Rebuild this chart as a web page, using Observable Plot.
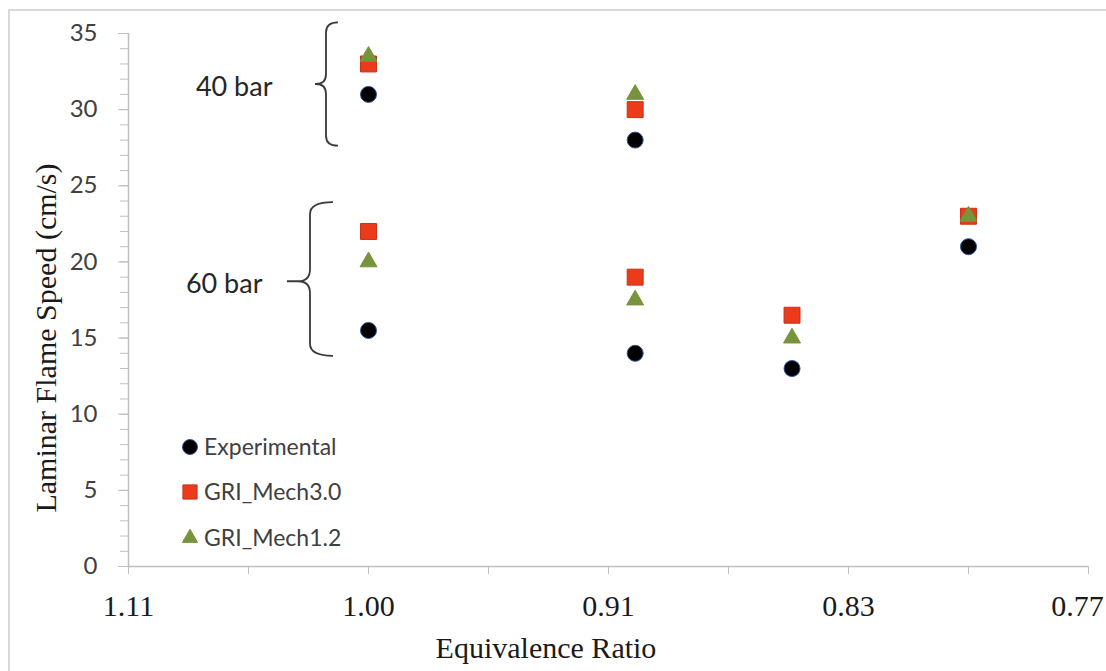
<!DOCTYPE html>
<html><head><meta charset="utf-8">
<script src="https://cdn.jsdelivr.net/npm/d3@7"></script>
<script src="https://cdn.jsdelivr.net/npm/@observablehq/plot@0.6"></script>
<style>body{margin:0;background:#fff;}</style>
</head><body><div id="chart"></div>
<script>
// ---- data ----
const phi          = [1.00, 0.90, 1.00, 0.90, 0.85, 0.80];   // equivalence ratio of each point
const experimental = [31,   28,   15.5, 14,   13,   21];
const griMech30    = [33,   30,   22,   19,   16.5, 23];
const griMech12    = [33.5, 31,   20,   17.5, 15,   23];
const seriesNames  = ["Experimental", "GRI_Mech3.0", "GRI_Mech1.2"];
const seriesValues = [experimental, griMech30, griMech12];

// x axis is linear in 1/phi; ticks labelled with phi
const xTickValues = [0.9, 1.0, 1.1, 1.2, 1.3];
const xTickLabels = ["1.11", "1.00", "0.91", "0.83", "0.77"];
const xMinorTicks = [0.9, 0.95, 1.0, 1.05, 1.1, 1.15, 1.2, 1.25, 1.3];
const yTicks = [0, 5, 10, 15, 20, 25, 30, 35];
const yMinorTicks = d3.range(0, 36, 1);
const xTitle = "Equivalence Ratio";
const yTitle = "Laminar Flame Speed (cm/s)";

// pressure groups marked with braces
const groupLabels = ["40 bar", "60 bar"];
const groupPhi    = [1.00, 1.00];
const groupTop    = [35.7, 23.9];
const groupBottom = [27.6, 13.8];
const groupMid    = [31.65, 18.7];

// ---- styles ----
const seriesStyle = {
  "Experimental": {symbol: "circle",   fill: "#000000", stroke: "#2f5597", r: 8,   lr: 7.5},
  "GRI_Mech3.0":  {symbol: "square",   fill: "#ec3b1b", stroke: "#c9311c", r: 9,   lr: 8},
  "GRI_Mech1.2":  {symbol: "triangle", fill: "#77933c", stroke: "#77933c", r: 6.3, lr: 5.6}
};
const braceStyle = [
  {spine: -42, tip: -30, mid: -53, rad: 10, textDx: -96},
  {spine: -58, tip: -35, mid: -81, rad: 12, textDx: -106}
];
const axisGray = "#bfbfbf";

const rows = [];
seriesNames.forEach((name, s) => seriesValues[s].forEach((v, i) => rows.push({series: name, phi: phi[i], lambda: 1 / phi[i], v})));
const groups = groupLabels.map((label, i) => ({label, lambda: 1 / groupPhi[i], top: groupTop[i], bottom: groupBottom[i], mid: groupMid[i]}));

const symbolMap = {circle: d3.symbolCircle, square: d3.symbolSquare, triangle: d3.symbolTriangle};
const xLabel = d => xTickLabels[xTickValues.findIndex(t => Math.abs(t - d) < 1e-9)];

const chart = Plot.plot({
  width: 1106, height: 671,
  marginLeft: 128, marginRight: 18, marginTop: 33, marginBottom: 105,
  style: {fontFamily: "Lato", background: "#fff", overflow: "visible"},
  x: {domain: [0.9, 1.3]},
  y: {domain: [0, 35]},
  marks: [
    // outer chart border
    () => d3.create("svg:rect").attr("x", 9).attr("y", 10).attr("width", 1110).attr("height", 680)
        .attr("fill", "none").attr("stroke", "#d9d9d9").attr("stroke-width", 2).node(),
    Plot.axisY({ticks: yMinorTicks, tickSize: 8, stroke: axisGray, tickFormat: () => "", label: null}),
    Plot.axisY({ticks: yTicks, tickSize: 10, tickPadding: 21, stroke: axisGray, fill: "#404040",
      fontSize: 24, fontFamily: "Lato", label: null}),
    Plot.axisX({ticks: xMinorTicks, tickSize: 8, stroke: axisGray, tickFormat: () => "", label: null}),
    Plot.axisX({ticks: xTickValues.slice(0, -1), tickSize: 8, tickPadding: 20, stroke: axisGray, fill: "#1a1a1a",
      fontSize: 30, fontFamily: "Liberation Serif", label: null, tickFormat: xLabel}),
    Plot.axisX({ticks: xTickValues.slice(-1), tickSize: 0, tickPadding: 28, dx: -11, stroke: "none", fill: "#1a1a1a",
      fontSize: 30, fontFamily: "Liberation Serif", label: null, tickFormat: xLabel}),
    Plot.ruleX([0.9], {stroke: axisGray, strokeWidth: 1.5}),
    Plot.ruleY([0], {stroke: axisGray, strokeWidth: 1.5}),
    // data points
    ...seriesNames.map(name => {
      const st = seriesStyle[name];
      return Plot.dot(rows.filter(d => d.series === name), {
        x: "lambda", y: "v", symbol: st.symbol, r: st.r, fill: st.fill, stroke: st.stroke, strokeWidth: 1
      });
    }),
    // group labels
    ...groups.map((g, i) => Plot.text([g], {x: "lambda", y: "mid", text: "label", textAnchor: "end",
      dx: braceStyle[i].textDx, dy: 3, fontSize: 27, fontFamily: "Lato", fill: "#262626"})),
    // braces
    (index, scales) => {
      const svg = d3.create("svg:g").attr("fill", "none").attr("stroke", "#3a3a3a").attr("stroke-width", 1.8);
      groups.forEach((g, i) => {
        const bs = braceStyle[i];
        const x0 = scales.x(g.lambda);
        const s = x0 + bs.spine, t = x0 + bs.tip, m = x0 + bs.mid, r = bs.rad;
        const top = scales.y(g.top), bot = scales.y(g.bottom), mid = scales.y(g.mid);
        const p = `M${t},${top} Q${s},${top} ${s},${top + r} V${mid - r} Q${s},${mid} ${s - r},${mid} H${m} ` +
                  `M${s - r},${mid} Q${s},${mid} ${s},${mid + r} V${bot - r} Q${s},${bot} ${t},${bot}`;
        svg.append("path").attr("d", p);
      });
      return svg.node();
    },
    // axis titles
    () => {
      const g = d3.create("svg:g").attr("font-family", "Liberation Serif").attr("font-size", 30)
        .attr("fill", "#1a1a1a").attr("text-anchor", "middle");
      g.append("text").attr("x", 546).attr("y", 658).text(xTitle);
      g.append("text").attr("transform", "translate(56,338) rotate(-90)").text(yTitle);
      return g.node();
    },
    // legend
    () => {
      const g = d3.create("svg:g");
      const ys = [447, 492, 538];
      seriesNames.forEach((name, i) => {
        const st = seriesStyle[name];
        g.append("path")
          .attr("d", d3.symbol(symbolMap[st.symbol], Math.PI * st.lr * st.lr)())
          .attr("transform", `translate(190,${ys[i]})`)
          .attr("fill", st.fill).attr("stroke", st.stroke).attr("stroke-width", 1);
        g.append("text").attr("x", 204).attr("y", ys[i]).attr("dy", "0.35em").attr("text-anchor", "start")
          .attr("font-family", "Lato").attr("font-size", 23).attr("fill", "#404040").text(name);
      });
      return g.node();
    }
  ]
});
document.getElementById("chart").appendChild(chart);
</script></body></html>
